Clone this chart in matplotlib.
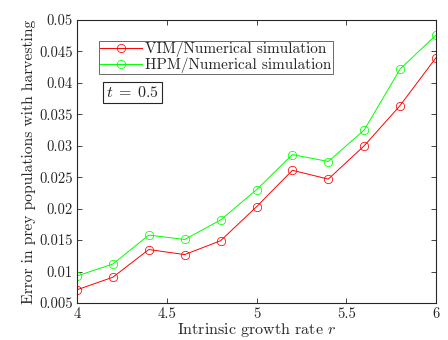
import numpy as np
import matplotlib
matplotlib.use("Agg")
import matplotlib.pyplot as plt

plt.rcParams['font.family'] = 'serif'
plt.rcParams['font.serif'] = ['cmr10', 'DejaVu Serif']
plt.rcParams['mathtext.fontset'] = 'cm'
plt.rcParams['axes.formatter.use_mathtext'] = True

r = [4.0, 4.2, 4.4, 4.6, 4.8, 5.0, 5.2, 5.4, 5.6, 5.8, 6.0]
vim_err = [0.0071, 0.0091, 0.0135, 0.0127, 0.0149, 0.0203, 0.0261, 0.0247, 0.0300, 0.0364, 0.0440]
hpm_err = [0.0093, 0.0112, 0.0158, 0.0151, 0.0182, 0.0230, 0.0286, 0.0275, 0.0325, 0.0422, 0.0476]

dark = '#262626'

fig = plt.figure(figsize=(4.48, 3.4), dpi=100)
ax = fig.add_axes([77/448, 1 - 303/340, (436-77)/448, (303-20)/340])

ax.plot(r, vim_err, color='red', lw=0.7, marker='o', ms=6, mfc='none', mew=0.55,
        label='VIM/Numerical simulation')
ax.plot(r, hpm_err, color='#00ff00', lw=0.7, marker='o', ms=6, mfc='none', mew=0.55,
        label='HPM/Numerical simulation')

ax.set_xlim(4, 6)
ax.set_ylim(0.005, 0.05)
ax.set_xticks([4, 4.5, 5, 5.5, 6])
ax.set_xticklabels(['4', '4.5', '5', '5.5', '6'])
yt = np.arange(0.005, 0.0501, 0.005)
ax.set_yticks(yt)
ax.set_yticklabels(['0.005', '0.01', '0.015', '0.02', '0.025', '0.03',
                    '0.035', '0.04', '0.045', '0.05'])
ax.tick_params(direction='in', top=True, right=True, length=3.5, width=0.6,
               labelsize=10.5, colors=dark, pad=3)
for s in ax.spines.values():
    s.set_linewidth(0.8)
    s.set_color(dark)

ax.set_xlabel('Intrinsic growth rate $r$', fontsize=11.5, color=dark, labelpad=0)
ax.set_ylabel('Error in prey populations with harvesting', fontsize=11.2, color=dark, labelpad=2)

leg = ax.legend(loc='upper left', bbox_to_anchor=(0.061, 0.925), fontsize=11,
                frameon=True, fancybox=False, handlelength=2.8, handletextpad=0.2,
                borderpad=0.05, labelspacing=0.0, borderaxespad=0)
leg.get_frame().set_edgecolor(dark)
leg.get_frame().set_linewidth(0.6)
for t in leg.get_texts():
    t.set_color(dark)

ax.text(0.08, 0.745, '$t\\;=\\;0.5$', transform=ax.transAxes, fontsize=11.5,
        color=dark, va='center', ha='left',
        bbox=dict(boxstyle='square,pad=0.18', fc='white', ec=dark, lw=0.8))

fig.savefig('out.png', dpi=100)
